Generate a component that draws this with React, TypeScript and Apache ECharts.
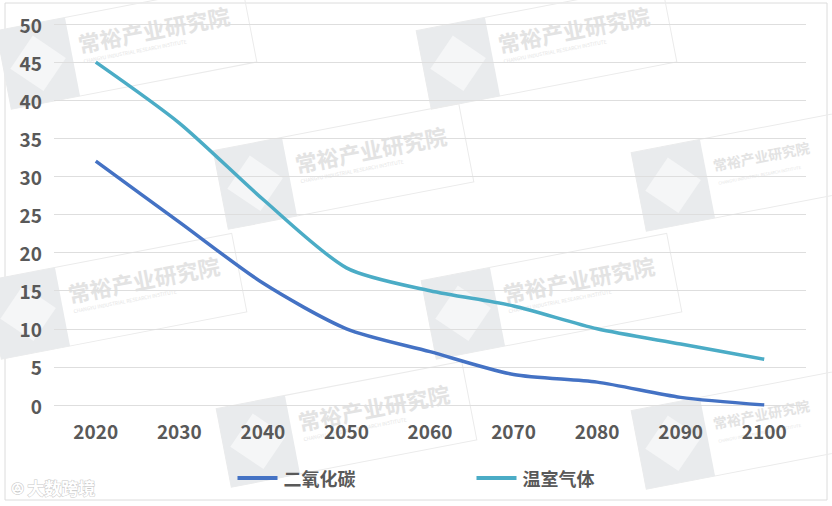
import * as echarts from 'echarts'
import { useEffect, useRef } from 'react'

const years = ['2020', '2030', '2040', '2050', '2060', '2070', '2080', '2090', '2100']
const co2 = [32, 24, 16, 10, 7, 4, 3, 1, 0]
const ghg = [45, 37, 27, 18, 15, 13, 10, 8, 6]
const seriesNames = ['二氧化碳', '温室气体']
const markText = '常裕产业研究院'
const markSub = 'CHANGYU INDUSTRIAL RESEARCH INSTITUTE'

// watermark anchors (square centre) and text size
const marks = [
  [45, 62, 22], [465, 62, 22], [262, 182, 22], [680, 184, 14],
  [35, 312, 22], [470, 312, 22], [265, 440, 22], [680, 442, 14],
]

const font = '"Noto Sans CJK SC", "Noto Sans", sans-serif'

function watermark(x: number, y: number, size: number) {
  return {
    type: 'group',
    x,
    y,
    rotation: 0.19,
    z: 1,
    silent: true,
    children: [
      {
        type: 'rect',
        shape: { x: -42, y: -40, width: 250, height: 80 },
        style: { fill: 'none', stroke: '#ebebeb', lineWidth: 1 },
      },
      {
        type: 'rect',
        shape: { x: -42, y: -40, width: 70, height: 80 },
        style: { fill: '#e9ebed' },
      },
      {
        type: 'rect',
        x: -7,
        y: 0,
        rotation: Math.PI / 4,
        shape: { x: -20, y: -20, width: 40, height: 40 },
        style: { fill: '#f5f6f7' },
      },
      {
        type: 'text',
        x: 36,
        y: -12,
        style: { text: markText, font: `bold ${size}px ${font}`, fill: '#e3e3e3', textVerticalAlign: 'middle' },
      },
      {
        type: 'text',
        x: 38,
        y: 6,
        style: { text: markSub, font: `${size > 20 ? 5 : 4}px ${font}`, fill: '#e6e6e6', textVerticalAlign: 'middle' },
      },
    ],
  }
}

export default function App() {
  const chartRef = useRef<HTMLDivElement>(null)

  useEffect(() => {
    document.body.style.margin = '0'
    if (!chartRef.current) return
    const chart = echarts.init(chartRef.current, null, { renderer: 'svg' })

    const option = {
      animation: false,
      backgroundColor: '#ffffff',
      grid: { left: 54, right: 26, top: 24, bottom: 101 },
      legend: {
        bottom: 14,
        left: 'center',
        itemGap: 121,
        itemWidth: 40,
        itemHeight: 4,
        icon: 'rect',
        textStyle: { fontFamily: font, fontSize: 18, fontWeight: 'bold', color: '#595959', padding: [0, 0, 0, 1] },
        data: seriesNames,
      },
      xAxis: {
        type: 'category',
        data: years,
        boundaryGap: true,
        axisLine: { show: false },
        axisTick: { show: false },
        axisLabel: { margin: 16, fontFamily: font, fontSize: 19, fontWeight: 'bold', color: '#595959' },
      },
      yAxis: {
        type: 'value',
        min: 0,
        max: 50,
        interval: 5,
        axisLabel: { margin: 12, fontFamily: font, fontSize: 19, fontWeight: 'bold', color: '#595959' },
        splitLine: { lineStyle: { color: '#dedede', width: 1 } },
      },
      graphic: [
        {
          type: 'rect',
          z: 0,
          silent: true,
          shape: { x: 5, y: 3, width: 822, height: 497 },
          style: { fill: 'none', stroke: '#dcdcdc', lineWidth: 1 },
        },
        ...marks.map(([x, y, s]) => watermark(x, y, s)),
        {
          type: 'text',
          left: 10,
          bottom: 10,
          z: 1,
          silent: true,
          style: { text: 'ꔮ 大数跨境', font: `bold 17px ${font}`, fill: '#ffffff', stroke: '#c8c8c8', lineWidth: 1 },
        },
      ],
      series: [
        {
          name: seriesNames[0],
          type: 'line',
          data: co2,
          smooth: 0.25,
          symbol: 'none',
          z: 3,
          itemStyle: { color: '#4472C4' },
          lineStyle: { color: '#4472C4', width: 3.5 },
        },
        {
          name: seriesNames[1],
          type: 'line',
          data: ghg,
          smooth: 0.25,
          symbol: 'none',
          z: 3,
          itemStyle: { color: '#4BACC6' },
          lineStyle: { color: '#4BACC6', width: 3.5 },
        },
      ],
    }

    chart.setOption(option)
    return () => chart.dispose()
  }, [])

  return <div ref={chartRef} style={{ width: '832px', height: '506px' }} />
}
